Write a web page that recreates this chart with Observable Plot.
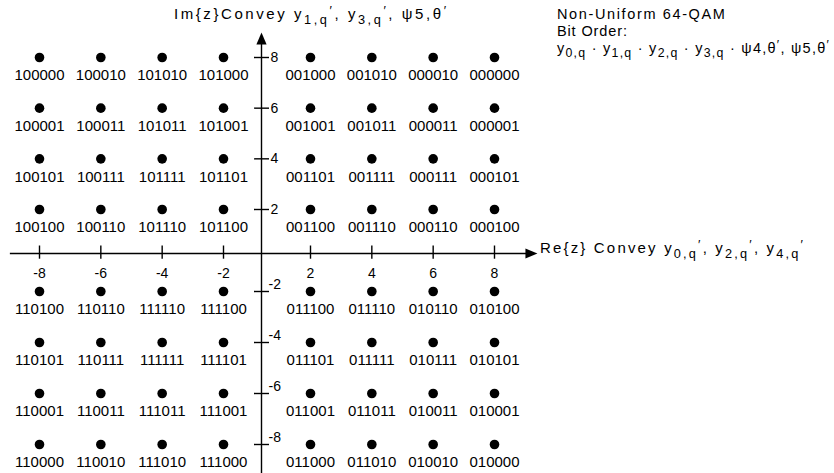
<!DOCTYPE html>
<html><head><meta charset="utf-8">
<script src="https://cdn.jsdelivr.net/npm/d3@7"></script>
<script src="https://cdn.jsdelivr.net/npm/@observablehq/plot@0.6"></script>
<style>body{margin:0;background:#fff} svg{display:block}</style>
</head><body><div id="chart"></div>
<script>
// In-phase (Re) and quadrature (Im) amplitude levels
const iLevels = [-8, -6, -4, -2, 2, 4, 6, 8];
const qLevels = [8, 6, 4, 2, -2, -4, -6, -8];
// Bit labels, one row per qLevel, one column per iLevel
const bitLabels = [
  ["100000","100010","101010","101000","001000","001010","000010","000000"],
  ["100001","100011","101011","101001","001001","001011","000011","000001"],
  ["100101","100111","101111","101101","001101","001111","000111","000101"],
  ["100100","100110","101110","101100","001100","001110","000110","000100"],
  ["110100","110110","111110","111100","011100","011110","010110","010100"],
  ["110101","110111","111111","111101","011101","011111","010111","010101"],
  ["110001","110011","111011","111001","011001","011011","010011","010001"],
  ["110000","110010","111010","111000","011000","011010","010010","010000"]
];
const xTicks = [-8, -6, -4, -2, 2, 4, 6, 8];
const yTicks = [8, 6, 4, 2, -2, -4, -6, -8];

const points = qLevels.flatMap((q, r) => iLevels.map((i, c) => ({i, q, label: bitLabels[r][c]})));

const FONT = "Liberation Sans, Arial, Helvetica, sans-serif";

// custom symbols
const vTick = {draw(ctx, size) { const r = Math.sqrt(size / Math.PI); ctx.moveTo(0, -r); ctx.lineTo(0, r * 0.65); }};
const hTick = {draw(ctx, size) { const r = Math.sqrt(size / Math.PI); ctx.moveTo(-r, 0); ctx.lineTo(r, 0); }};
const arrowRight = {draw(ctx, size) { const r = Math.sqrt(size / Math.PI); ctx.moveTo(0, 0); ctx.lineTo(-2 * r, -0.85 * r); ctx.lineTo(-2 * r, 0.85 * r); ctx.closePath(); }};
const arrowUp = {draw(ctx, size) { const r = Math.sqrt(size / Math.PI); ctx.moveTo(0, 0); ctx.lineTo(-0.85 * r, 2 * r); ctx.lineTo(0.85 * r, 2 * r); ctx.closePath(); }};

const xEnd = 9.4, yEnd = 8.99;

const chart = Plot.plot({
  width: 834,
  height: 473,
  margin: 0,
  style: {fontFamily: FONT, background: "#fff", color: "#000"},
  x: {type: "linear", domain: [-8, -2, 0, 2, 8], range: [39, 223, 261, 310, 494], axis: null},
  y: {type: "linear", domain: [-8, -2, 0, 2, 8], range: [444, 291, 253, 209, 57], axis: null},
  marks: [
    // axes lines
    Plot.ruleY([0], {x1: -8.95, x2: xEnd - 0.3, stroke: "#000", strokeWidth: 1.4}),
    Plot.ruleX([0], {y1: -9.3, y2: yEnd - 0.3, stroke: "#000", strokeWidth: 1.4}),
    Plot.dot([0], {x: xEnd, y: 0, symbol: arrowRight, r: 6, fill: "#000", stroke: "none"}),
    Plot.dot([0], {x: 0, y: yEnd, symbol: arrowUp, r: 6, fill: "#000", stroke: "none"}),
    // ticks
    Plot.dot(xTicks, {x: d => d, y: 0, symbol: vTick, r: 8, fill: "none", stroke: "#000", strokeWidth: 1.4}),
    Plot.dot(yTicks, {x: 0, y: d => d, symbol: hTick, r: 7.5, fill: "none", stroke: "#000", strokeWidth: 1.4}),
    // tick labels
    Plot.text(xTicks, {x: d => d, y: 0, text: d => String(d), dy: 20, fontSize: 14, fill: "#000"}),
    Plot.text(yTicks.filter(d => d > 0), {x: 0, y: d => d, text: d => String(d), dx: 9, textAnchor: "start", fontSize: 14, fill: "#000"}),
    Plot.text(yTicks.filter(d => d < 0), {x: 0, y: d => d, text: d => String(d), dx: 7, dy: -7, textAnchor: "start", fontSize: 14, fill: "#000"}),
    // constellation points
    Plot.dot(points, {x: "i", y: "q", r: 4.8, fill: "#000", stroke: "none"}),
    Plot.text(points, {x: "i", y: "q", text: "label", dy: 18, fontSize: 15, fill: "#000"})
  ]
});

document.getElementById("chart").appendChild(chart);

const sx = chart.scale("x"), sy = chart.scale("y");

// rich text with subscripts / primes; optionally stretched to a target width via letter-spacing
function rich(x, y, parts, size, targetWidth) {
  const t = d3.select(chart).append("text")
    .attr("x", x).attr("y", y)
    .attr("text-anchor", "start")
    .attr("font-family", FONT).attr("font-size", size)
    .attr("fill", "#000");
  let shift = 0, n = 0;
  for (const [s, k] of parts) {
    const target = k === "sub" ? size * 0.3 : k === "sup" ? -size * 0.3 : 0;
    t.append("tspan").attr("dy", target - shift)
      .attr("font-size", k === "n" ? size : size * 0.85).text(s);
    shift = target;
    n += [...s].length;
  }
  if (targetWidth) {
    const w = t.node().getComputedTextLength();
    if (w > 0 && n > 1) t.attr("letter-spacing", Math.max(0, (targetWidth - w) / (n - 1)));
  }
  return t;
}

// axis titles
rich(sx.apply(0) - 87, sy.apply(8) - 38, [
  ["Im{z}Convey y", "n"], ["1,q", "sub"], ["′", "sup"], [", y", "n"], ["3,q", "sub"], ["′", "sup"],
  [", ψ5,θ", "n"], ["′", "sup"]
], 15, 272);

rich(sx.apply(xEnd) + 3, sy.apply(0), [
  ["Re{z} Convey y", "n"], ["0,q", "sub"], ["′", "sup"], [", y", "n"], ["2,q", "sub"], ["′", "sup"],
  [", y", "n"], ["4,q", "sub"], ["′", "sup"]
], 15, 263);

// legend block
const lx = sx.apply(xEnd) + 20;
rich(lx, 19, [["Non-Uniform 64-QAM", "n"]], 14.5, 168);
rich(lx, 36, [["Bit Order:", "n"]], 14.5, 70);
rich(lx, 53, [
  ["y", "n"], ["0,q", "sub"], [" · y", "n"], ["1,q", "sub"], [" · y", "n"], ["2,q", "sub"], [" · y", "n"], ["3,q", "sub"],
  [" · ψ4,θ", "n"], ["′", "sup"], [", ψ5,θ", "n"], ["′", "sup"]
], 14.5, 272);
</script>
</body></html>
